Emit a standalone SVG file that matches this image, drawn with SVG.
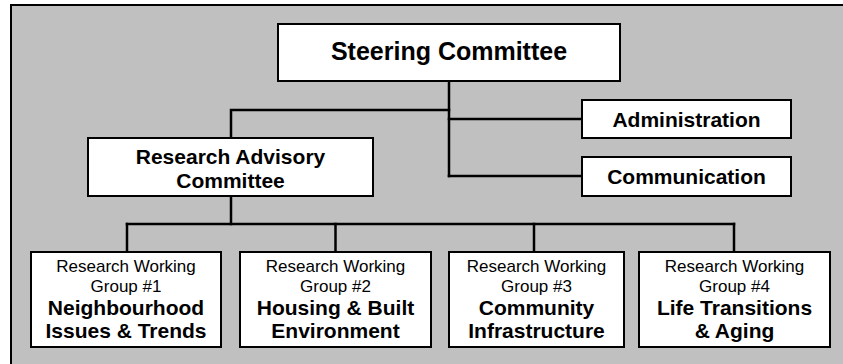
<svg xmlns="http://www.w3.org/2000/svg" width="843" height="364" viewBox="0 0 843 364">
<style>
.box{fill:#ffffff;stroke:#000000;stroke-width:2}
.conn{fill:none;stroke:#000000;stroke-width:2.5;stroke-linecap:square}
text{font-family:"Liberation Sans",Arial,sans-serif;fill:#000000;text-anchor:middle}
.b{font-weight:bold;font-size:21px}
.r{font-size:17px}
</style>
<rect x="0" y="0" width="843" height="364" fill="#ffffff"/>
<rect x="11" y="5" width="840" height="370" fill="#c0c0c0" stroke="#000000" stroke-width="2"/>
<g id="connectors">
<path class="conn" d="M449 81 V176"/>
<path class="conn" d="M449 110 H231 V138"/>
<path class="conn" d="M449 119 H582"/>
<path class="conn" d="M449 176 H582"/>
<path class="conn" d="M231 196 V224"/>
<path class="conn" d="M127 224 H734"/>
<path class="conn" d="M127 224 V252"/>
<path class="conn" d="M335.5 224 V252"/>
<path class="conn" d="M534 224 V252"/>
<path class="conn" d="M734 224 V252"/>
</g>
<g id="steering">
<rect class="box" x="278" y="24" width="342" height="57"/>
<text x="449" y="60" font-weight="bold" font-size="25">Steering Committee</text>
</g>
<g id="admin">
<rect class="box" x="582" y="100" width="209" height="38"/>
<text class="b" x="686.5" y="126.5">Administration</text>
</g>
<g id="comm">
<rect class="box" x="582" y="157" width="209" height="39"/>
<text class="b" x="686.5" y="184">Communication</text>
</g>
<g id="rac">
<rect class="box" x="88" y="138" width="285" height="58"/>
<text class="b" x="230.5" y="164">Research Advisory</text>
<text class="b" x="230.5" y="188">Committee</text>
</g>
<g id="rwg1">
<rect class="box" x="31" y="252" width="190" height="95"/>
<text class="r" x="126" y="272">Research Working</text>
<text class="r" x="126" y="292">Group #1</text>
<text class="b" x="126" y="315">Neighbourhood</text>
<text class="b" x="126" y="338">Issues &amp; Trends</text>
</g>
<g id="rwg2">
<rect class="box" x="240" y="252" width="191" height="95"/>
<text class="r" x="335.5" y="272">Research Working</text>
<text class="r" x="335.5" y="292">Group #2</text>
<text class="b" x="335.5" y="315">Housing &amp; Built</text>
<text class="b" x="335.5" y="338">Environment</text>
</g>
<g id="rwg3">
<rect class="box" x="449" y="252" width="175" height="95"/>
<text class="r" x="536.5" y="272">Research Working</text>
<text class="r" x="536.5" y="292">Group #3</text>
<text class="b" x="536.5" y="315">Community</text>
<text class="b" x="536.5" y="338">Infrastructure</text>
</g>
<g id="rwg4">
<rect class="box" x="639" y="252" width="191" height="95"/>
<text class="r" x="734.5" y="272">Research Working</text>
<text class="r" x="734.5" y="292">Group #4</text>
<text class="b" x="734.5" y="315">Life Transitions</text>
<text class="b" x="734.5" y="338">&amp; Aging</text>
</g>
</svg>
